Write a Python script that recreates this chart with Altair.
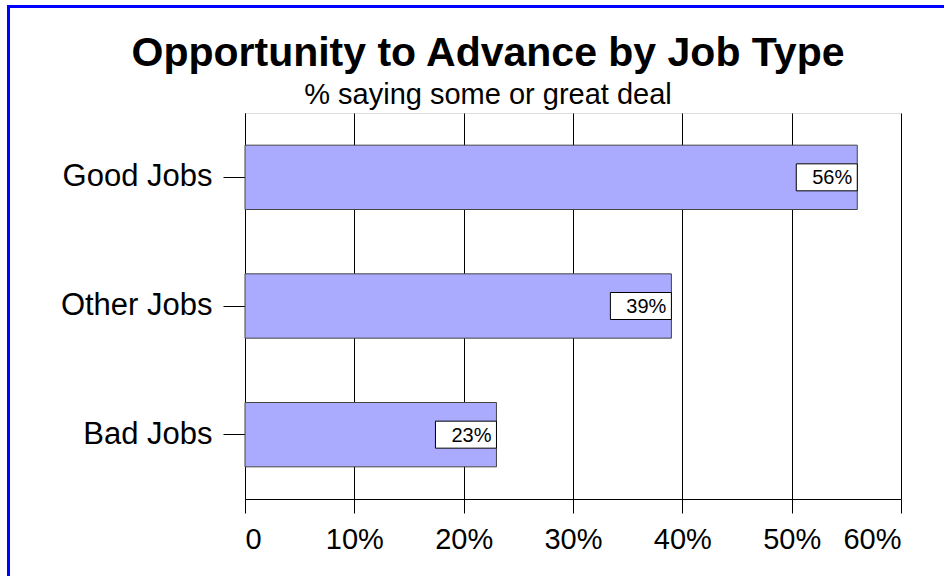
import altair as alt
import pandas as pd

categories = ["Good Jobs", "Other Jobs", "Bad Jobs"]
values = [56, 39, 23]
labels = ["56%", "39%", "23%"]
x_ticks = [0, 10, 20, 30, 40, 50, 60]

df = pd.DataFrame({"job": categories, "pct": values, "label": labels})

FONT = "Liberation Sans"

x_enc = alt.X(
    "pct:Q",
    scale=alt.Scale(domain=[0, 60], nice=False),
    axis=alt.Axis(
        values=x_ticks,
        labelExpr="datum.value == 0 ? '0' : datum.value + '%'",
        title=None,
        grid=True,
        gridColor="#000000",
        gridWidth=1,
        gridOpacity=1,
        domainColor="#000000",
        tickColor="#000000",
        tickSize=14,
        labelFontSize=29,
        labelFont=FONT,
        labelColor="#000000",
        labelPadding=12,
    ),
)
y_enc = alt.Y(
    "job:N",
    sort=categories,
    scale=alt.Scale(paddingInner=0.5, paddingOuter=0.25),
    axis=alt.Axis(
        title=None,
        domainColor="#000000",
        tickColor="#000000",
        tickSize=22,
        labelFontSize=31,
        labelFont=FONT,
        labelColor="#000000",
        labelPadding=11,
        grid=False,
    ),
)

base = alt.Chart(df)

bars = base.mark_bar(fill="#aaaaff", stroke="#444444", strokeWidth=1).encode(x=x_enc, y=y_enc)

boxes = base.mark_rect(
    width=61, height=27, xOffset=-30.5, fill="#ffffff", stroke="#000000", strokeWidth=1
).encode(x="pct:Q", y=alt.Y("job:N", sort=categories))

texts = base.mark_text(
    align="right", baseline="middle", dx=-5, dy=1, fontSize=20, font=FONT, color="#000000"
).encode(x="pct:Q", y=alt.Y("job:N", sort=categories), text="label:N")

frame_v = alt.Chart(df).mark_rule(color="#0000ff", strokeWidth=3).encode(
    x=alt.value(-236.5), y=alt.value(-106.5), y2=alt.value(600)
)
frame_h = alt.Chart(df).mark_rule(color="#0000ff", strokeWidth=3).encode(
    x=alt.value(-238), x2=alt.value(800), y=alt.value(-106.5)
)

chart = (
    alt.layer(bars, boxes, texts, frame_v, frame_h)
    .properties(
        width=656,
        height=386,
        autosize=alt.AutoSizeParams(type="none"),
        padding={"left": 245, "top": 113, "right": 43, "bottom": 77},
        title=alt.TitleParams(
            text="Opportunity to Advance by Job Type",
            subtitle="% saying some or great deal",
            font=FONT,
            fontSize=41,
            fontWeight="bold",
            color="#000000",
            subtitleFont=FONT,
            subtitleFontSize=29,
            subtitleColor="#000000",
            subtitlePadding=6,
            anchor="middle",
            dx=-85,
            offset=-106,
        ),
    )
    .configure_view(stroke=None)
    .configure(background="#ffffff")
)

chart.save("out.html", embed_options={"renderer": "svg", "actions": False})
